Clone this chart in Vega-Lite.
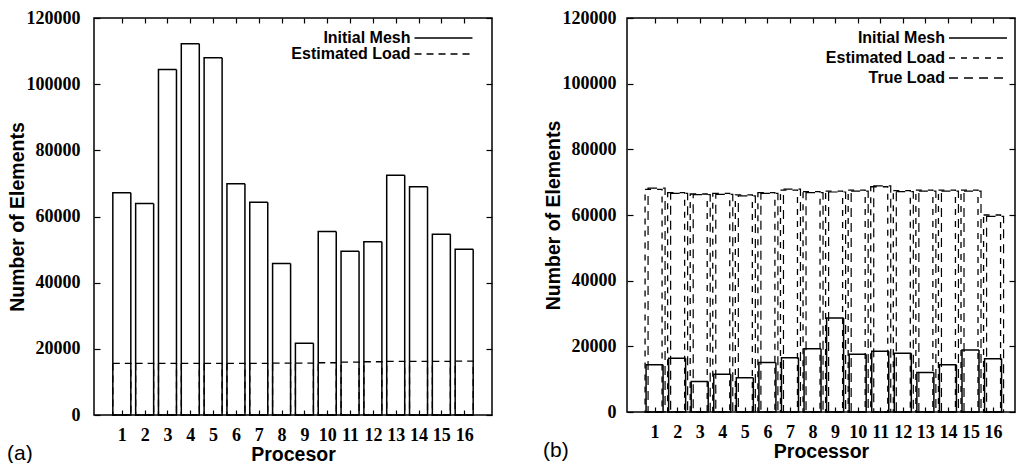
{
  "$schema": "https://vega.github.io/schema/vega-lite/v6.json",
  "background": "white",
  "padding": {"left": 6, "top": 8, "right": 0, "bottom": 0},
  "config": {
    "view": {"stroke": "black", "strokeWidth": 1.5},
    "font": "Liberation Sans",
    "axis": {
      "labelFont": "Liberation Serif",
      "labelFontWeight": "bold",
      "labelFontSize": 18,
      "labelColor": "black",
      "titleFont": "Liberation Sans",
      "titleFontWeight": "bold",
      "titleFontSize": 19.5,
      "titleColor": "black",
      "domain": false,
      "grid": false,
      "tickColor": "black",
      "tickWidth": 1.2
    },
    "legend": {
      "symbolType": "M-4,0H4",
      "symbolSize": 210,
      "symbolStrokeColor": "black",
      "symbolStrokeWidth": 1.4,
      "labelFont": "Liberation Sans",
      "labelFontWeight": "bold",
      "labelFontSize": 16,
      "labelColor": "black",
      "labelAlign": "right",
      "labelOffset": -41,
      "padding": 0
    }
  },
  "datasets": {
    "load": [
      {"panel": "a", "proc": 1, "series": "Initial Mesh", "value": 67200},
      {"panel": "a", "proc": 2, "series": "Initial Mesh", "value": 63900},
      {"panel": "a", "proc": 3, "series": "Initial Mesh", "value": 104400},
      {"panel": "a", "proc": 4, "series": "Initial Mesh", "value": 112200},
      {"panel": "a", "proc": 5, "series": "Initial Mesh", "value": 108000},
      {"panel": "a", "proc": 6, "series": "Initial Mesh", "value": 69900},
      {"panel": "a", "proc": 7, "series": "Initial Mesh", "value": 64300},
      {"panel": "a", "proc": 8, "series": "Initial Mesh", "value": 45800},
      {"panel": "a", "proc": 9, "series": "Initial Mesh", "value": 21700},
      {"panel": "a", "proc": 10, "series": "Initial Mesh", "value": 55500},
      {"panel": "a", "proc": 11, "series": "Initial Mesh", "value": 49500},
      {"panel": "a", "proc": 12, "series": "Initial Mesh", "value": 52400},
      {"panel": "a", "proc": 13, "series": "Initial Mesh", "value": 72500},
      {"panel": "a", "proc": 14, "series": "Initial Mesh", "value": 69000},
      {"panel": "a", "proc": 15, "series": "Initial Mesh", "value": 54600},
      {"panel": "a", "proc": 16, "series": "Initial Mesh", "value": 50100},
      {"panel": "a", "proc": 1, "series": "Estimated Load", "value": 15600},
      {"panel": "a", "proc": 2, "series": "Estimated Load", "value": 15600},
      {"panel": "a", "proc": 3, "series": "Estimated Load", "value": 15600},
      {"panel": "a", "proc": 4, "series": "Estimated Load", "value": 15600},
      {"panel": "a", "proc": 5, "series": "Estimated Load", "value": 15600},
      {"panel": "a", "proc": 6, "series": "Estimated Load", "value": 15600},
      {"panel": "a", "proc": 7, "series": "Estimated Load", "value": 15600},
      {"panel": "a", "proc": 8, "series": "Estimated Load", "value": 15700},
      {"panel": "a", "proc": 9, "series": "Estimated Load", "value": 15700},
      {"panel": "a", "proc": 10, "series": "Estimated Load", "value": 15800},
      {"panel": "a", "proc": 11, "series": "Estimated Load", "value": 16000},
      {"panel": "a", "proc": 12, "series": "Estimated Load", "value": 16100},
      {"panel": "a", "proc": 13, "series": "Estimated Load", "value": 16200},
      {"panel": "a", "proc": 14, "series": "Estimated Load", "value": 16200},
      {"panel": "a", "proc": 15, "series": "Estimated Load", "value": 16200},
      {"panel": "a", "proc": 16, "series": "Estimated Load", "value": 16300},
      {"panel": "b", "proc": 1, "series": "Initial Mesh", "value": 14400},
      {"panel": "b", "proc": 2, "series": "Initial Mesh", "value": 16400},
      {"panel": "b", "proc": 3, "series": "Initial Mesh", "value": 9300},
      {"panel": "b", "proc": 4, "series": "Initial Mesh", "value": 11500},
      {"panel": "b", "proc": 5, "series": "Initial Mesh", "value": 10400},
      {"panel": "b", "proc": 6, "series": "Initial Mesh", "value": 15100},
      {"panel": "b", "proc": 7, "series": "Initial Mesh", "value": 16500},
      {"panel": "b", "proc": 8, "series": "Initial Mesh", "value": 19300},
      {"panel": "b", "proc": 9, "series": "Initial Mesh", "value": 28600},
      {"panel": "b", "proc": 10, "series": "Initial Mesh", "value": 17600},
      {"panel": "b", "proc": 11, "series": "Initial Mesh", "value": 18500},
      {"panel": "b", "proc": 12, "series": "Initial Mesh", "value": 17900},
      {"panel": "b", "proc": 13, "series": "Initial Mesh", "value": 12000},
      {"panel": "b", "proc": 14, "series": "Initial Mesh", "value": 14400},
      {"panel": "b", "proc": 15, "series": "Initial Mesh", "value": 18900},
      {"panel": "b", "proc": 16, "series": "Initial Mesh", "value": 16200},
      {"panel": "b", "proc": 1, "series": "Estimated Load", "value": 67800},
      {"panel": "b", "proc": 2, "series": "Estimated Load", "value": 66800},
      {"panel": "b", "proc": 3, "series": "Estimated Load", "value": 66400},
      {"panel": "b", "proc": 4, "series": "Estimated Load", "value": 66600},
      {"panel": "b", "proc": 5, "series": "Estimated Load", "value": 66100},
      {"panel": "b", "proc": 6, "series": "Estimated Load", "value": 66800},
      {"panel": "b", "proc": 7, "series": "Estimated Load", "value": 67600},
      {"panel": "b", "proc": 8, "series": "Estimated Load", "value": 67100},
      {"panel": "b", "proc": 9, "series": "Estimated Load", "value": 67300},
      {"panel": "b", "proc": 10, "series": "Estimated Load", "value": 67600},
      {"panel": "b", "proc": 11, "series": "Estimated Load", "value": 68600},
      {"panel": "b", "proc": 12, "series": "Estimated Load", "value": 67400},
      {"panel": "b", "proc": 13, "series": "Estimated Load", "value": 67600},
      {"panel": "b", "proc": 14, "series": "Estimated Load", "value": 67600},
      {"panel": "b", "proc": 15, "series": "Estimated Load", "value": 67600},
      {"panel": "b", "proc": 16, "series": "Estimated Load", "value": 60000},
      {"panel": "b", "proc": 1, "series": "True Load", "value": 68200},
      {"panel": "b", "proc": 2, "series": "True Load", "value": 66600},
      {"panel": "b", "proc": 3, "series": "True Load", "value": 66200},
      {"panel": "b", "proc": 4, "series": "True Load", "value": 66300},
      {"panel": "b", "proc": 5, "series": "True Load", "value": 65800},
      {"panel": "b", "proc": 6, "series": "True Load", "value": 66600},
      {"panel": "b", "proc": 7, "series": "True Load", "value": 67900},
      {"panel": "b", "proc": 8, "series": "True Load", "value": 66800},
      {"panel": "b", "proc": 9, "series": "True Load", "value": 67000},
      {"panel": "b", "proc": 10, "series": "True Load", "value": 67300},
      {"panel": "b", "proc": 11, "series": "True Load", "value": 68900},
      {"panel": "b", "proc": 12, "series": "True Load", "value": 67100},
      {"panel": "b", "proc": 13, "series": "True Load", "value": 67300},
      {"panel": "b", "proc": 14, "series": "True Load", "value": 67300},
      {"panel": "b", "proc": 15, "series": "True Load", "value": 67300},
      {"panel": "b", "proc": 16, "series": "True Load", "value": 59600}
    ]
  },
  "spacing": 48,
  "resolve": {
    "scale": {"strokeDash": "independent"},
    "legend": {"strokeDash": "independent"}
  },
  "hconcat": [
    {
      "width": 398,
      "height": 397,
      "data": {"name": "load"},
      "transform": [{"filter": "datum.panel == 'a'"}],
      "title": {
        "text": "(a)",
        "orient": "bottom",
        "anchor": "start",
        "frame": "bounds",
        "font": "Liberation Sans",
        "fontSize": 21,
        "fontWeight": "normal",
        "color": "black",
        "dy": -25
      },
      "resolve": {"axis": {"x": "independent", "y": "independent"}},
      "layer": [
        {
          "transform": [{"filter": "datum.series == 'Estimated Load'"}],
          "mark": {"type": "bar", "filled": false, "width": 18, "color": "black", "strokeWidth": 1.3},
          "encoding": {
            "x": {
              "field": "proc", "type": "quantitative",
              "scale": {"domain": [0, 17], "nice": false, "zero": false},
              "axis": {"orient": "bottom", "title": "Procesor", "values": [1, 2, 3, 4, 5, 6, 7, 8, 9, 10, 11, 12, 13, 14, 15, 16], "tickSize": -5, "labelPadding": 16, "titlePadding": 1, "labelFlush": false}
            },
            "y": {
              "field": "value", "type": "quantitative",
              "scale": {"domain": [0, 120000], "nice": false},
              "axis": {"orient": "left", "title": "Number of Elements", "values": [0, 20000, 40000, 60000, 80000, 100000, 120000], "format": "d", "tickSize": -6, "labelPadding": 20, "titlePadding": -1}
            },
            "strokeDash": {
              "field": "series", "type": "nominal",
              "scale": {"domain": ["Initial Mesh", "Estimated Load"], "range": [[1, 0], [7, 5]]},
              "legend": {"orient": "none", "legendX": 341.5, "legendY": 12, "title": null, "rowPadding": -0.5}
            }
          }
        },
        {
          "transform": [{"filter": "datum.series == 'Initial Mesh'"}],
          "mark": {"type": "bar", "filled": false, "width": 18, "color": "black", "strokeWidth": 1.5},
          "encoding": {
            "x": {
              "field": "proc", "type": "quantitative",
              "axis": {"orient": "top", "title": null, "labels": false, "values": [1, 2, 3, 4, 5, 6, 7, 8, 9, 10, 11, 12, 13, 14, 15, 16], "tickSize": -5}
            },
            "y": {
              "field": "value", "type": "quantitative",
              "axis": {"orient": "right", "title": null, "labels": false, "values": [0, 20000, 40000, 60000, 80000, 100000, 120000], "tickSize": -6}
            },
            "strokeDash": {"field": "series", "type": "nominal"}
          }
        }
      ]
    },
    {
      "width": 388,
      "height": 394,
      "data": {"name": "load"},
      "transform": [{"filter": "datum.panel == 'b'"}],
      "title": {
        "text": "(b)",
        "orient": "bottom",
        "anchor": "start",
        "frame": "bounds",
        "font": "Liberation Sans",
        "fontSize": 21,
        "fontWeight": "normal",
        "color": "black",
        "dy": -25
      },
      "resolve": {"axis": {"x": "independent", "y": "independent"}},
      "layer": [
        {
          "transform": [{"filter": "datum.series == 'True Load'"}],
          "mark": {"type": "bar", "filled": false, "width": 17, "color": "black", "strokeWidth": 1.2, "xOffset": 2},
          "encoding": {
            "x": {
              "field": "proc", "type": "quantitative",
              "scale": {"domain": [0, 16.75], "nice": false, "zero": false},
              "axis": {"orient": "bottom", "title": "Processor", "values": [1, 2, 3, 4, 5, 6, 7, 8, 9, 10, 11, 12, 13, 14, 15, 16], "tickSize": -5, "labelPadding": 16, "titlePadding": 1, "labelFlush": false}
            },
            "y": {
              "field": "value", "type": "quantitative",
              "scale": {"domain": [0, 120000], "nice": false},
              "axis": {"orient": "left", "title": "Number of Elements", "values": [0, 20000, 40000, 60000, 80000, 100000, 120000], "format": "d", "tickSize": -6, "labelPadding": 17, "titlePadding": -1}
            },
            "strokeDash": {
              "field": "series", "type": "nominal",
              "scale": {"domain": ["Initial Mesh", "Estimated Load", "True Load"], "range": [[1, 0], [6, 6], [9, 6]]},
              "legend": {"orient": "none", "legendX": 343, "legendY": 12, "title": null, "rowPadding": 4}
            }
          }
        },
        {
          "transform": [{"filter": "datum.series == 'Estimated Load'"}],
          "mark": {"type": "bar", "filled": false, "width": 17, "color": "black", "strokeWidth": 1.3, "xOffset": -1},
          "encoding": {
            "x": {"field": "proc", "type": "quantitative", "axis": null},
            "y": {"field": "value", "type": "quantitative", "axis": null},
            "strokeDash": {"field": "series", "type": "nominal"}
          }
        },
        {
          "transform": [{"filter": "datum.series == 'Initial Mesh'"}],
          "mark": {"type": "bar", "filled": false, "width": 17, "color": "black", "strokeWidth": 1.5},
          "encoding": {
            "x": {
              "field": "proc", "type": "quantitative",
              "axis": {"orient": "top", "title": null, "labels": false, "values": [1, 2, 3, 4, 5, 6, 7, 8, 9, 10, 11, 12, 13, 14, 15, 16], "tickSize": -5}
            },
            "y": {
              "field": "value", "type": "quantitative",
              "axis": {"orient": "right", "title": null, "labels": false, "values": [0, 20000, 40000, 60000, 80000, 100000, 120000], "tickSize": -6}
            },
            "strokeDash": {"field": "series", "type": "nominal"}
          }
        }
      ]
    }
  ]
}
